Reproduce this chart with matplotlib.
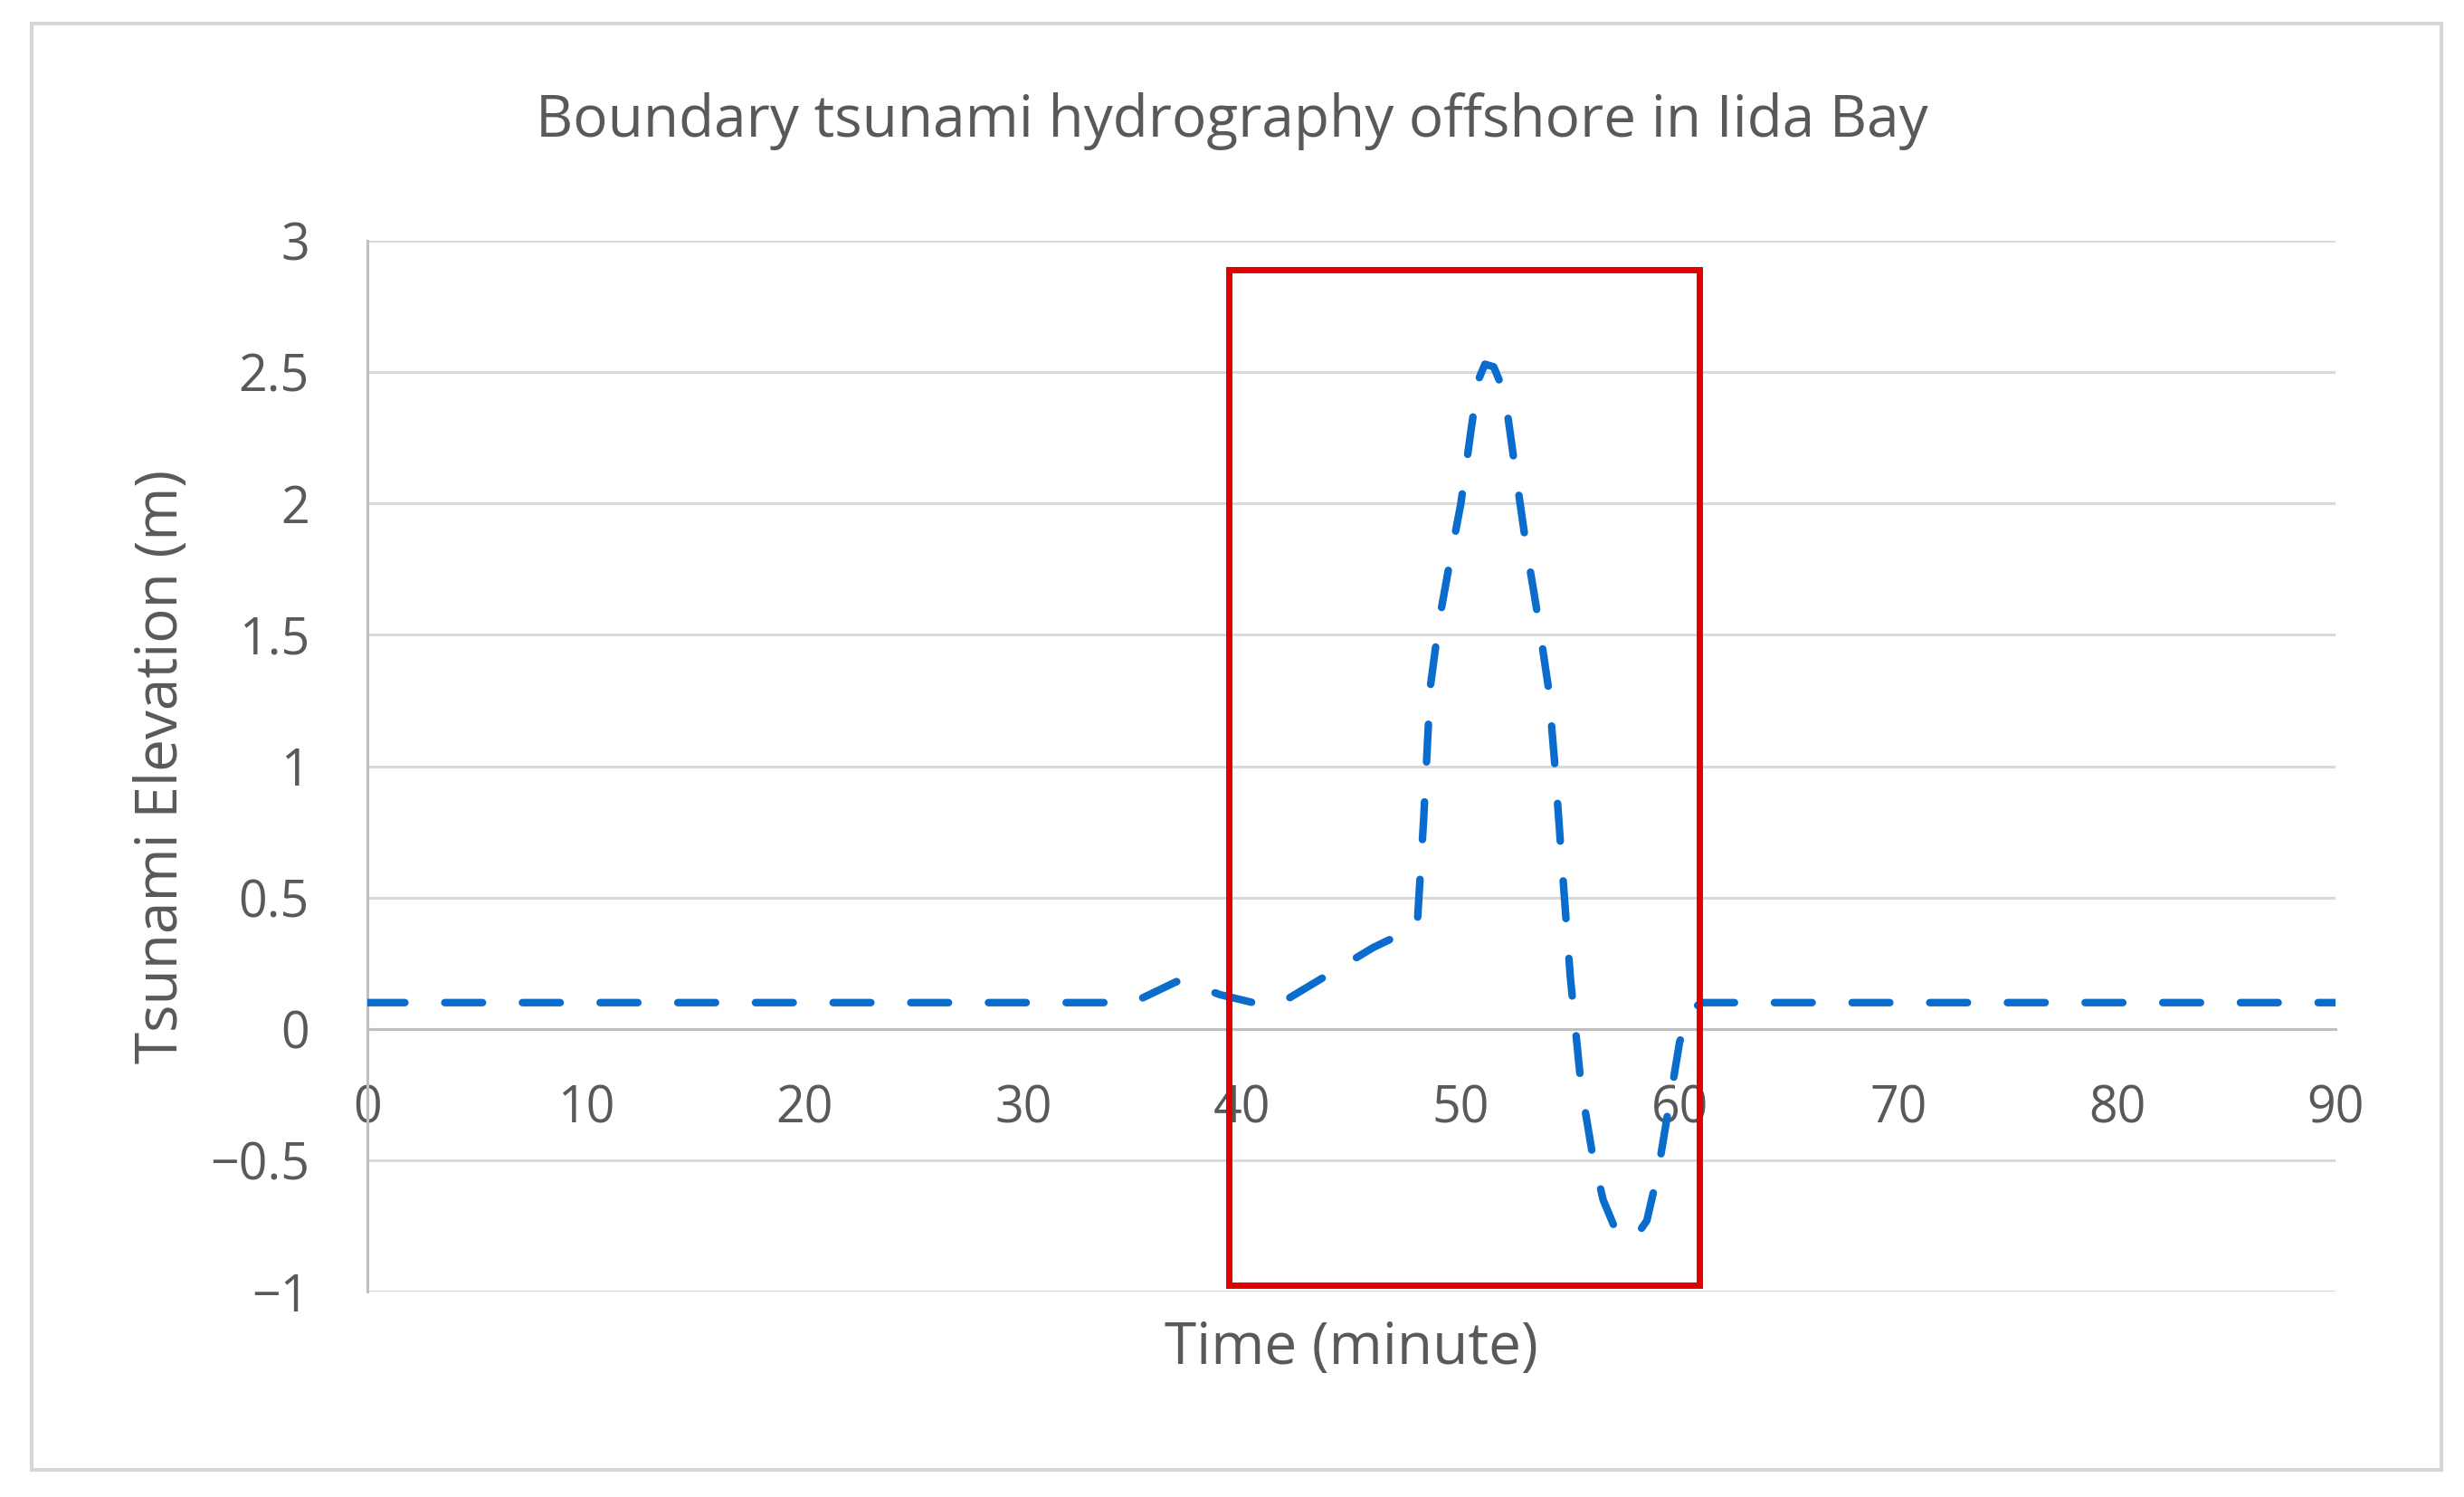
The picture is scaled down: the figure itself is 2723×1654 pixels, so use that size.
import matplotlib
matplotlib.use("Agg")
import matplotlib.pyplot as plt
from matplotlib.patches import Rectangle

# Boundary hydrograph (minute, elevation in m)
time_min = [0, 35, 36, 37, 38, 39, 40, 41, 42, 43, 44, 45, 46, 47, 47.5,
            48.0, 48.3, 48.6, 49.0, 49.5, 50.0, 50.5, 50.8, 51.1, 51.5,
            52.0, 52.5, 53.0, 53.5, 54.0, 54.3, 54.6, 55.0, 55.5, 56.0,
            56.5, 57.0, 57.5, 58.0, 58.5, 59.0, 59.5, 60.0, 60.5, 61.0, 90]
elevation_m = [0.10, 0.10, 0.14, 0.18, 0.16, 0.13, 0.11, 0.09, 0.11, 0.16,
               0.21, 0.26, 0.31, 0.35, 0.37, 0.39, 0.80, 1.30, 1.55, 1.78,
               2.00, 2.30, 2.47, 2.53, 2.52, 2.42, 2.12, 1.83, 1.58, 1.30,
               1.00, 0.65, 0.20, -0.22, -0.47, -0.65, -0.75, -0.80, -0.79,
               -0.73, -0.55, -0.30, -0.05, 0.07, 0.10, 0.10]

x_ticks = [0, 10, 20, 30, 40, 50, 60, 70, 80, 90]
y_ticks = [-1, -0.5, 0, 0.5, 1, 1.5, 2, 2.5, 3]
y_tick_labels = ["\u22121", "\u22120.5", "0", "0.5", "1", "1.5", "2", "2.5", "3"]

# highlighted window (minutes / metres)
box_x = (39.4, 60.9)
box_y = (-0.975, 2.89)

TEXT = "#595959"
GRID = "#d9d9d9"
AXIS = "#bfbfbf"
plt.rcParams["font.family"] = ["Open Sans", "DejaVu Sans"]

fig = plt.figure(figsize=(27.23, 16.54), dpi=100)
ax = fig.add_axes([0.149, 0.1372, 0.799, 0.702])

# outer chart frame
fig.patches.append(Rectangle((0.013, 0.018), 0.978, 0.966, transform=fig.transFigure,
                             fill=False, edgecolor="#d6d6d6", linewidth=3))

ax.plot(time_min, elevation_m, color="#0a6ccc", linewidth=6,
        linestyle=(0, (5, 5.3)), dash_capstyle="round", zorder=3)

ax.set_xlim(0, 90)
ax.set_ylim(-1, 3)
ax.set_xticks(x_ticks)
ax.set_yticks(y_ticks)
ax.set_yticklabels(y_tick_labels)
ax.yaxis.grid(True, color=GRID, linewidth=2.2)
ax.set_axisbelow(True)

for side in ("top", "right"):
    ax.spines[side].set_visible(False)
ax.spines["bottom"].set_position(("data", 0))
ax.spines["bottom"].set_color(AXIS)
ax.spines["bottom"].set_linewidth(2.2)
ax.spines["left"].set_color(AXIS)
ax.spines["left"].set_linewidth(2.2)

ax.tick_params(axis="both", length=0, labelsize=40, labelcolor=TEXT)
ax.tick_params(axis="x", pad=44)
ax.tick_params(axis="y", pad=46)

ax.add_patch(Rectangle((box_x[0], box_y[0]), box_x[1] - box_x[0], box_y[1] - box_y[0],
                       fill=False, edgecolor="#e00000", linewidth=5, clip_on=False, zorder=4))

ax.text(0.5, -0.054, "Time (minute)", transform=ax.transAxes, ha="center", va="center",
        fontsize=46, color=TEXT)
ax.text(-0.104, 0.5, "Tsunami Elevation (m)", transform=ax.transAxes, ha="center",
        va="center", rotation=90, fontsize=46, color=TEXT)
fig.text(0.5, 0.919, "Boundary tsunami hydrography offshore in Iida Bay",
         ha="center", va="center", fontsize=46, color=TEXT)

fig.savefig("out.png", dpi=100, facecolor="white")
